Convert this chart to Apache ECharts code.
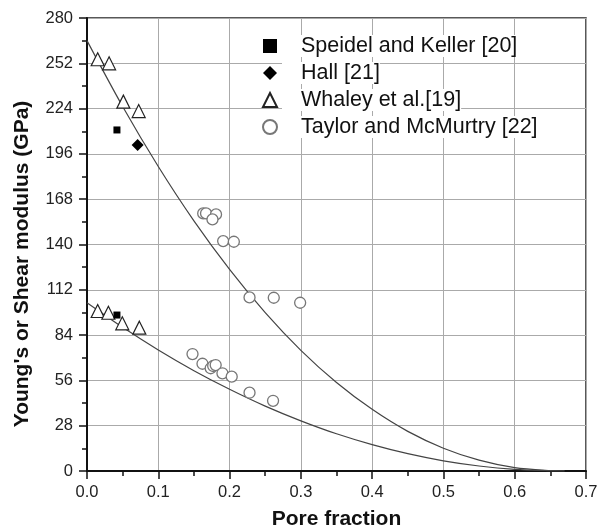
<!DOCTYPE html>
<html><head><meta charset="utf-8">
<script src="https://cdn.jsdelivr.net/npm/echarts@6/dist/echarts.min.js"></script>
<style>html,body{margin:0;padding:0;background:#fff}#c{width:598px;height:530px}</style>
</head><body><div id="c"></div>
<script>
// Speidel and Keller [20]
var speidelX = [0.042, 0.042];
var speidelY = [210.8, 96.4];
// Hall [21]
var hallX = [0.071];
var hallY = [201.5];
// Whaley et al.[19]
var whaleyX = [0.015, 0.031, 0.051, 0.0725, 0.015, 0.030, 0.0495, 0.0734];
var whaleyY = [254.5, 252, 228.3, 222.5, 98.9, 97.8, 91.3, 88.6];
// Taylor and McMurtry [22]
var taylorX = [0.163, 0.167, 0.181, 0.176, 0.191, 0.206, 0.228, 0.262, 0.299,
               0.148, 0.162, 0.1735, 0.177, 0.1805, 0.190, 0.203, 0.228, 0.261];
var taylorY = [159.2, 159.2, 158.6, 155.5, 142.1, 141.7, 107.3, 107.1, 104,
               72.3, 66.3, 63.5, 64.9, 65.5, 60.4, 58.3, 48.4, 43.4];
// fitted curves
var fitX = [0, 0.05, 0.1, 0.15, 0.2, 0.25, 0.3, 0.35, 0.4, 0.45, 0.5, 0.55, 0.6, 0.65, 0.67];
var youngFit = [266, 225.3, 188.2, 154.6, 124.6, 97.9, 74.6, 54.7, 38.1, 24.5, 14.1, 6.7, 2.1, 0.2, 0];
var shearFit = [104, 88.8, 74.8, 62.0, 50.5, 40.1, 31.0, 23.0, 16.3, 10.7, 6.3, 3.1, 1.0, 0.1, 0];
var xTicks = ['0.0','0.1','0.2','0.3','0.4','0.5','0.6','0.7'];
var xTitle = 'Pore fraction';
var yTitle = "Young's or Shear modulus (GPa)";

function pairs(xs, ys){ return xs.map(function(x,i){ return [x, ys[i]]; }); }

var FONT = 'Liberation Sans, Arial, sans-serif';
var chart = echarts.init(document.getElementById('c'), null, {renderer:'canvas'});
chart.setOption({
  animation: false,
  backgroundColor: '#fff',
  grid: {left: 87, right: 12, top: 18, bottom: 59, outerBoundsMode: 'none', containLabel: false,
         show: true, borderColor: '#222', borderWidth: 1.5},
  graphic: [{
    type: 'text', x: 22, y: 264, rotation: Math.PI / 2,
    style: {text: yTitle, font: 'bold 21px ' + FONT, fill: '#111', textAlign: 'center', textVerticalAlign: 'middle'}
  }],
  legend: {
    orient: 'vertical', left: 257, top: 30, itemWidth: 14, itemHeight: 14, itemGap: 5,
    textStyle: {fontFamily: FONT, fontSize: 21.5, color: '#111', padding: [0,0,0,19], backgroundColor: '#fff'},
    data: [
      {name: 'Speidel and Keller [20]'},
      {name: 'Hall [21]'},
      {name: 'Whaley et al.[19]'},
      {name: 'Taylor and McMurtry [22]'}
    ]
  },
  xAxis: {
    type: 'value', min: 0, max: 0.7, interval: 0.1,
    name: xTitle, nameLocation: 'middle', nameGap: 38,
    nameTextStyle: {fontFamily: FONT, fontSize: 21, fontWeight: 'bold', color: '#111'},
    axisLine: {lineStyle: {color: '#111', width: 2}},
    axisTick: {show: true, inside: false, length: 8, lineStyle: {color: '#111', width: 1.5}},
    minorTick: {show: true, splitNumber: 2, length: 5, lineStyle: {color: '#111', width: 1.5}},
    axisLabel: {fontFamily: FONT, fontSize: 16.5, color: '#222', margin: 13,
      formatter: function(v){ return xTicks[Math.round(v*10)]; }},
    splitLine: {show: true, lineStyle: {color: '#aaa', width: 1}}
  },
  yAxis: {
    type: 'value', min: 0, max: 280, interval: 28,
    axisLine: {show: true, lineStyle: {color: '#111', width: 2}},
    axisTick: {show: true, inside: false, length: 8, lineStyle: {color: '#111', width: 1.5}},
    minorTick: {show: true, splitNumber: 2, length: 5, lineStyle: {color: '#111', width: 1.5}},
    axisLabel: {fontFamily: FONT, fontSize: 16.5, color: '#222', margin: 14},
    splitLine: {show: true, lineStyle: {color: '#aaa', width: 1}}
  },
  series: [
    {type: 'line', name: 'young fit', data: pairs(fitX, youngFit), smooth: 0.3, symbol: 'none',
     lineStyle: {color: '#444', width: 1.2}, z: 2, silent: true},
    {type: 'line', name: 'shear fit', data: pairs(fitX, shearFit), smooth: 0.3, symbol: 'none',
     lineStyle: {color: '#444', width: 1.2}, z: 2, silent: true},
    {type: 'scatter', name: 'Taylor and McMurtry [22]', data: pairs(taylorX, taylorY),
     symbol: 'circle', symbolSize: 11,
     itemStyle: {color: '#fff', borderColor: '#777', borderWidth: 1.3, opacity: 1}, z: 3},
    {type: 'scatter', name: 'Whaley et al.[19]', data: pairs(whaleyX, whaleyY),
     symbol: 'triangle', symbolSize: 13,
     itemStyle: {color: '#fff', borderColor: '#222', borderWidth: 1.2, opacity: 1}, z: 4},
    {type: 'scatter', name: 'Speidel and Keller [20]', data: pairs(speidelX, speidelY),
     symbol: 'rect', symbolSize: 7,
     itemStyle: {color: '#000', opacity: 1}, z: 5},
    {type: 'scatter', name: 'Hall [21]', data: pairs(hallX, hallY),
     symbol: 'diamond', symbolSize: 12,
     itemStyle: {color: '#000', opacity: 1}, z: 5}
  ]
});
</script></body></html>
